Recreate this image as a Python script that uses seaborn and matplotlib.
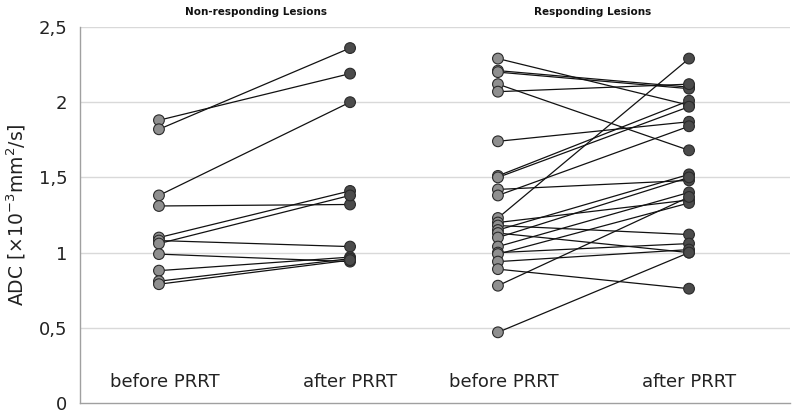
import matplotlib
matplotlib.use("Agg")
import matplotlib.pyplot as plt
import seaborn as sns
import pandas as pd

# ---- data ----
groups = ["Non-responding Lesions", "Responding Lesions"]
time_labels = ["before PRRT", "after PRRT"]
y_ticks = [0, 0.5, 1, 1.5, 2, 2.5]
y_tick_labels = ["0", "0,5", "1", "1,5", "2", "2,5"]

nonresp_before = [1.88, 1.82, 1.38, 1.31, 1.10, 1.08, 1.06, 0.99, 0.88, 0.81, 0.79]
nonresp_after = [2.19, 2.36, 2.00, 1.32, 1.41, 1.04, 1.38, 0.94, 0.97, 0.96, 0.95]

resp_before = [2.29, 2.21, 2.20, 2.12, 2.07, 1.74, 1.51, 1.50, 1.42, 1.38, 1.23, 1.20,
               1.18, 1.15, 1.13, 1.10, 1.04, 1.00, 0.99, 0.94, 0.89, 0.78, 0.47]
resp_after = [1.98, 2.10, 2.09, 1.68, 2.12, 1.87, 2.01, 1.97, 1.48, 1.84, 2.29, 1.35,
              1.12, 1.52, 1.00, 1.50, 1.40, 1.06, 1.33, 1.02, 0.76, 1.37, 1.00]

# ---- layout constants ----
group_offsets = [0.0, 1.756]
time_step = [0.0, 0.99]

rows = []
for g, (bef, aft) in enumerate([(nonresp_before, nonresp_after), (resp_before, resp_after)]):
    for i, (b, a) in enumerate(zip(bef, aft)):
        rows.append(dict(lesion=f"{g}-{i}", time=time_labels[0], x=group_offsets[g] + time_step[0], adc=b))
        rows.append(dict(lesion=f"{g}-{i}", time=time_labels[1], x=group_offsets[g] + time_step[1], adc=a))
df = pd.DataFrame(rows)

sns.set_style("white")
plt.rcParams["font.family"] = ["DejaVu Sans"]
plt.rcParams["mathtext.fontset"] = "dejavusans"

fig = plt.figure(figsize=(8, 4.17), dpi=100)
ax = fig.add_axes([80 / 800, 14 / 417, 710 / 800, 376 / 417])

sns.lineplot(data=df, x="x", y="adc", units="lesion", estimator=None,
             color="#111111", linewidth=0.9, ax=ax, legend=False, sort=False)
sns.scatterplot(data=df, x="x", y="adc", hue="time",
                palette={time_labels[0]: "#8f8f8f", time_labels[1]: "#4b4b4b"},
                s=60, edgecolor="#2a2a2a", linewidth=0.8, ax=ax, legend=False, zorder=3)

ax.set_xlim(-0.409, 3.269)
ax.set_ylim(0, 2.5)
ax.set_yticks(y_ticks)
ax.set_yticklabels(y_tick_labels, fontsize=13, color="#222222")
ax.set_xticks([])
ax.set_xlabel("")
ax.set_ylabel(r"ADC [×10$^{-3}$mm$^{2}$/s]", fontsize=13.5, color="#222222", labelpad=8)
for y in y_ticks[1:]:
    ax.axhline(y, color="#d9d9d9", linewidth=1.0, zorder=0)
for s in ["top", "right"]:
    ax.spines[s].set_visible(False)
for s in ["left", "bottom"]:
    ax.spines[s].set_color("#a0a0a0")
    ax.spines[s].set_linewidth(1.0)
ax.tick_params(axis="y", length=5, color="#a0a0a0", width=1, pad=4)

for g in range(2):
    for t in range(2):
        ax.text(group_offsets[g] + time_step[t] + (0.03 if t == 0 else 0.0), 0.14, time_labels[t],
                ha="center", va="center", fontsize=13, color="#222222")

title_x = [256 / 800, 593 / 800]
for g in range(2):
    fig.text(title_x[g], 1 - 12 / 417, groups[g], ha="center", va="center",
             fontsize=7.5, fontweight="bold", color="#111111")

fig.savefig("out.png", dpi=100)
